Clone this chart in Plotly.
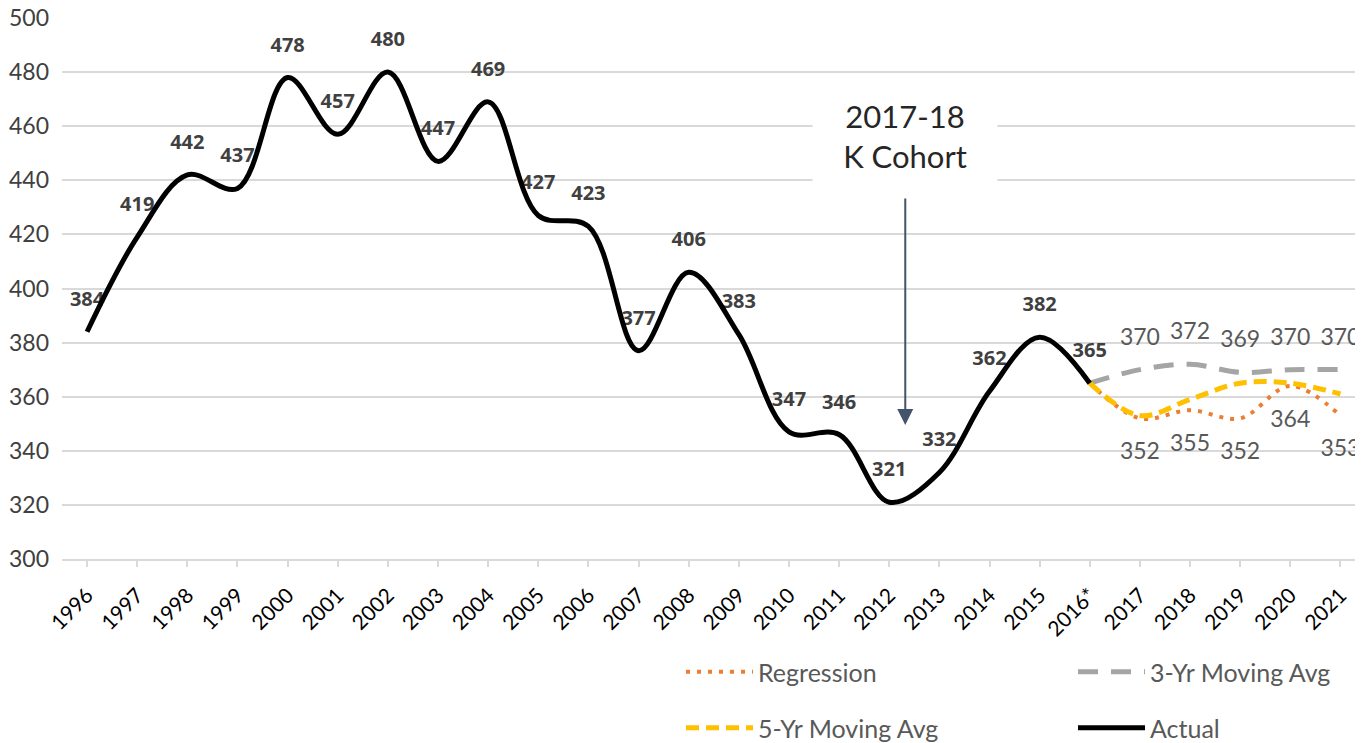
import plotly.graph_objects as go

# ---- data ----
years = ["1996", "1997", "1998", "1999", "2000", "2001", "2002", "2003", "2004",
         "2005", "2006", "2007", "2008", "2009", "2010", "2011", "2012", "2013",
         "2014", "2015", "2016*", "2017", "2018", "2019", "2020", "2021"]
actual_years = years[:21]
actual = [384, 419, 442, 437, 478, 457, 480, 447, 469, 427, 423, 377, 406, 383,
          347, 346, 321, 332, 362, 382, 365]
proj_years = years[20:]
regression = [365, 352, 355, 352, 364, 353]
ma3 = [365, 370, 372, 369, 370, 370]
ma5 = [365, 353, 359, 365, 365, 361]
y_ticks = [300, 320, 340, 360, 380, 400, 420, 440, 460, 480, 500]

FONT = "Lato"
BOLD_FONT = "Open Sans"

fig = go.Figure()

# label traces (drawn under lines)
fig.add_trace(go.Scatter(
    x=actual_years, y=actual, mode="markers+text", text=[str(v) for v in actual],
    textposition="top center", cliponaxis=False,
    textfont=dict(family=BOLD_FONT, size=20, color="#404040", weight="bold"),
    marker=dict(size=32, color="rgba(0,0,0,0)"), showlegend=False, hoverinfo="skip"))
fig.add_trace(go.Scatter(
    x=proj_years[1:], y=ma3[1:], mode="markers+text", text=[str(v) for v in ma3[1:]],
    textposition="top center", cliponaxis=False,
    textfont=dict(family=FONT, size=23, color="#595959"),
    marker=dict(size=29, color="rgba(0,0,0,0)"), showlegend=False, hoverinfo="skip"))
fig.add_trace(go.Scatter(
    x=proj_years[1:], y=regression[1:], mode="markers+text",
    text=[str(v) for v in regression[1:]], textposition="bottom center",
    cliponaxis=False,
    textfont=dict(family=FONT, size=23, color="#595959"),
    marker=dict(size=36, color="rgba(0,0,0,0)"), showlegend=False, hoverinfo="skip"))

# line traces
fig.add_trace(go.Scatter(
    x=proj_years, y=regression, mode="lines", name="Regression", legend="legend",
    line=dict(color="#ED7D31", width=4, dash="4px,7px", shape="spline", smoothing=1)))
fig.add_trace(go.Scatter(
    x=proj_years, y=ma3, mode="lines", name="3-Yr Moving Avg", legend="legend",
    line=dict(color="#A5A5A5", width=5, dash="20px,13px", shape="spline", smoothing=1)))
fig.add_trace(go.Scatter(
    x=proj_years, y=ma5, mode="lines", name="5-Yr Moving Avg", legend="legend2",
    line=dict(color="#FFC000", width=5, dash="13px,7px", shape="spline", smoothing=1)))
fig.add_trace(go.Scatter(
    x=actual_years, y=actual, mode="lines", name="Actual", legend="legend2",
    line=dict(color="#000000", width=5, shape="spline", smoothing=1)))

legend_common = dict(orientation="h", entrywidth=310, entrywidthmode="pixels",
                     itemwidth=67, xanchor="left", yanchor="middle",
                     font=dict(family=FONT, size=25, color="#595959"),
                     bgcolor="rgba(0,0,0,0)", traceorder="normal")

# the page body adds an 8px margin, so the figure is offset by 8px
fig.update_layout(
    width=1355, height=735,
    margin=dict(l=54, r=0, t=10, b=184, autoexpand=False),
    paper_bgcolor="white", plot_bgcolor="white",
    showlegend=True,
    legend=dict(x=0.4758, y=-0.2089, **legend_common),
    legend2=dict(x=0.4758, y=-0.3124, **legend_common),
    xaxis=dict(type="category", categoryorder="array", categoryarray=years,
               range=[-0.5, 25.45], showgrid=False, showline=True,
               linecolor="#D9D9D9", linewidth=1.5, ticks="outside",
               tickcolor="#D9D9D9", ticklen=6, tickwidth=1.5, tickangle=-45,
               ticklabelstandoff=8, automargin=False, ticklabeloverflow="allow",
               tickfont=dict(family=FONT, size=21, color="#000000"), zeroline=False),
    yaxis=dict(range=[300, 500], tickvals=y_ticks, showgrid=True,
               gridcolor="#D9D9D9", gridwidth=1.5, showline=False, zeroline=False,
               ticks="", ticklabelstandoff=12, automargin=False,
               ticklabeloverflow="allow",
               tickfont=dict(family=FONT, size=23, color="#404040")),
    annotations=[
        dict(x=16.32, y=349.5, xref="x", yref="y", ax=16.32, ay=433.8,
             axref="x", ayref="y", text="", showarrow=True, arrowhead=2,
             arrowsize=1.6, arrowwidth=2, arrowcolor="#44546A"),
        dict(x=16.32, y=456.4, xref="x", yref="y", text="2017-18<br>K Cohort",
             showarrow=False, bgcolor="white", width=182, height=92,
             font=dict(family=FONT, size=31, color="#262626")),
    ],
)

fig.write_html("out.html")
